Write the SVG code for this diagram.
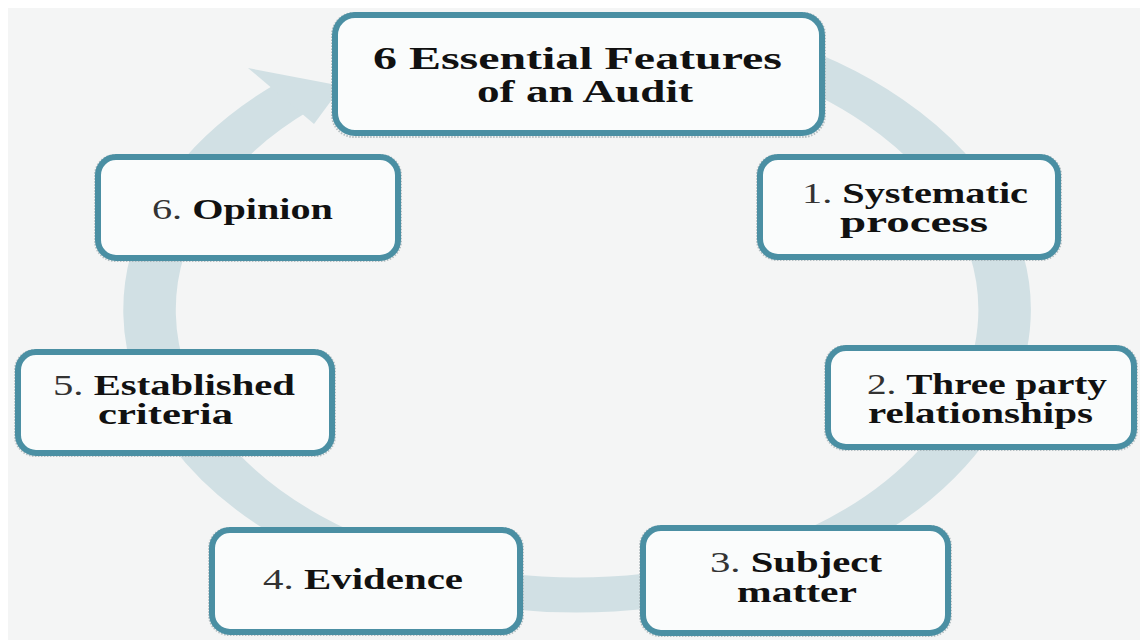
<svg xmlns="http://www.w3.org/2000/svg" width="1140" height="640" viewBox="0 0 1140 640">
<style>
.bg{fill:#f4f5f5}
.ring{fill:none;stroke:#d1e0e4;stroke-width:35;stroke-linecap:butt}
.head{fill:#d1e0e4}
.box{fill:#fafcfc;stroke:#4a8fa3;stroke-width:6}
.shadow{fill:none;stroke:#9aa7ab;stroke-width:2;stroke-dasharray:1.5 1.5;opacity:0.7}
.t{font-family:"Liberation Serif","Times New Roman",serif;font-weight:bold;font-size:29px;fill:#111}
.n{font-weight:normal;fill:#333}
.title{font-size:31px}
</style>
<rect x="0" y="0" width="1140" height="640" fill="#ffffff"/>
<rect class="bg" x="8" y="8" width="1132" height="632"/>
<g id="connectors">
  <g transform="translate(577,310) scale(1.5,1)">
    <path class="ring" d="M 108.7 -263.5 A 285 285 0 1 1 -188.8 -213.5"/>
  </g>
  <polygon class="head" points="248,68 342,86 314,124"/>
</g>
<g id="title">
  <rect class="shadow" x="332" y="13" width="493" height="124" rx="22"/>
  <rect class="box" x="335" y="15" width="487" height="118" rx="20"/>
  <text class="t title" x="373" y="69" textLength="409" lengthAdjust="spacingAndGlyphs">6 Essential Features</text>
  <text class="t title" x="477" y="102" textLength="216" lengthAdjust="spacingAndGlyphs">of an Audit</text>
</g>
<g id="n1">
  <rect class="shadow" x="757" y="155" width="304" height="105" rx="20"/>
  <rect class="box" x="760" y="157" width="298" height="100" rx="18"/>
  <text class="t" x="802" y="203" textLength="226" lengthAdjust="spacingAndGlyphs"><tspan class="n">1. </tspan>Systematic</text>
  <text class="t" x="840" y="232" textLength="148" lengthAdjust="spacingAndGlyphs">process</text>
</g>
<g id="n2">
  <rect class="shadow" x="825" y="346" width="312" height="104" rx="20"/>
  <rect class="box" x="828" y="348" width="306" height="99" rx="18"/>
  <text class="t" x="867" y="394" textLength="240" lengthAdjust="spacingAndGlyphs"><tspan class="n">2. </tspan>Three party</text>
  <text class="t" x="868" y="423" textLength="225" lengthAdjust="spacingAndGlyphs">relationships</text>
</g>
<g id="n3">
  <rect class="shadow" x="640" y="526" width="311" height="110" rx="20"/>
  <rect class="box" x="643" y="528" width="305" height="105" rx="18"/>
  <text class="t" x="710" y="572" textLength="172" lengthAdjust="spacingAndGlyphs"><tspan class="n">3. </tspan>Subject</text>
  <text class="t" x="737" y="602" textLength="120" lengthAdjust="spacingAndGlyphs">matter</text>
</g>
<g id="n4">
  <rect class="shadow" x="209" y="528" width="314" height="107" rx="20"/>
  <rect class="box" x="212" y="530" width="308" height="102" rx="18"/>
  <text class="t" x="263" y="589" textLength="200" lengthAdjust="spacingAndGlyphs"><tspan class="n">4. </tspan>Evidence</text>
</g>
<g id="n5">
  <rect class="shadow" x="15" y="350" width="320" height="106" rx="20"/>
  <rect class="box" x="18" y="352" width="314" height="101" rx="18"/>
  <text class="t" x="53" y="395" textLength="242" lengthAdjust="spacingAndGlyphs"><tspan class="n">5. </tspan>Established</text>
  <text class="t" x="98" y="424" textLength="135" lengthAdjust="spacingAndGlyphs">criteria</text>
</g>
<g id="n6">
  <rect class="shadow" x="95" y="155" width="306" height="106" rx="20"/>
  <rect class="box" x="98" y="157" width="300" height="101" rx="18"/>
  <text class="t" x="152" y="219" textLength="181" lengthAdjust="spacingAndGlyphs"><tspan class="n">6. </tspan>Opinion</text>
</g>
</svg>
